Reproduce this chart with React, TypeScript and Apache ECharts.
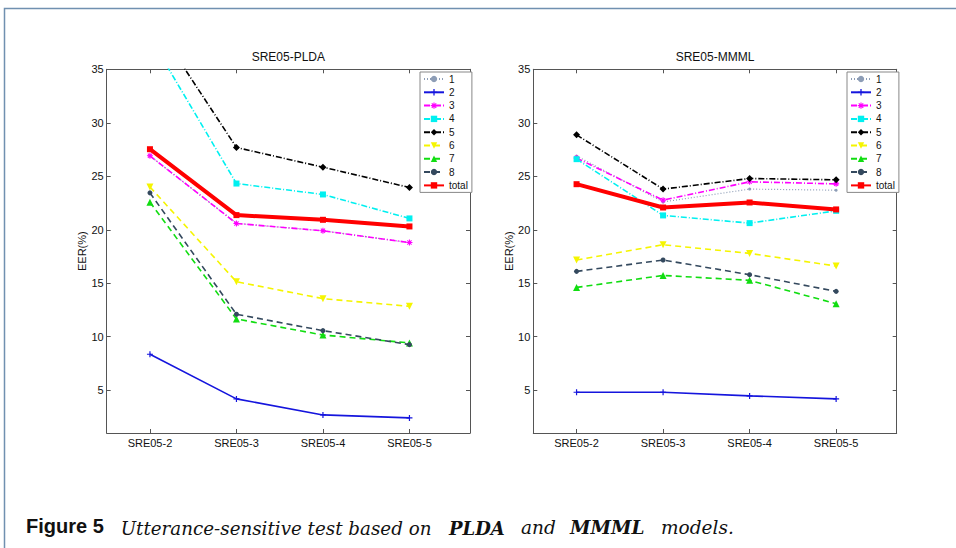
import React, { useEffect, useRef } from "react";
import * as echarts from "echarts";

const categories = ["SRE05-2", "SRE05-3", "SRE05-4", "SRE05-5"];
const yTicks = [5, 10, 15, 20, 25, 30, 35];
const seriesNames = ["1", "2", "3", "4", "5", "6", "7", "8", "total"];
const panelTitles = ["SRE05-PLDA", "SRE05-MMML"];

// SRE05-PLDA
const plda1 = [26.9, 20.6, 19.9, 18.8];
const plda2 = [8.36, 4.19, 2.69, 2.41];
const plda3 = [26.91, 20.59, 19.9, 18.8];
const plda4 = [38.0, 24.32, 23.3, 21.06];
const plda5 = [40.0, 27.69, 25.85, 23.95];
const plda6 = [24.0, 15.14, 13.56, 12.84];
const plda7 = [22.58, 11.66, 10.16, 9.42];
const plda8 = [23.45, 12.1, 10.57, 9.26];
const pldaTotal = [27.53, 21.37, 20.93, 20.31];

// SRE05-MMML
const mmml1 = [26.9, 22.6, 23.8, 23.7];
const mmml2 = [4.81, 4.81, 4.47, 4.19];
const mmml3 = [26.7, 22.77, 24.48, 24.29];
const mmml4 = [26.6, 21.34, 20.62, 21.77];
const mmml5 = [28.87, 23.8, 24.79, 24.67];
const mmml6 = [17.17, 18.6, 17.79, 16.61];
const mmml7 = [14.61, 15.73, 15.27, 13.09];
const mmml8 = [16.11, 17.17, 15.8, 14.24];
const mmmlTotal = [24.26, 22.08, 22.55, 21.9];

const panels = [
  [plda1, plda2, plda3, plda4, plda5, plda6, plda7, plda8, pldaTotal],
  [mmml1, mmml2, mmml3, mmml4, mmml5, mmml6, mmml7, mmml8, mmmlTotal],
];

const FONT = "Liberation Sans, Arial, sans-serif";
const AX = "#555";

const plusPath = "path://M4,0h2v4h4v2h-4v4h-2v-4h-4v-2h4z";
const starPath =
  "path://M4,0h2v3.3l2.3-2.3 1.4 1.4-2.3 2.3h3.3v2h-3.3l2.3 2.3-1.4 1.4-2.3-2.3v3.3h-2v-3.3l-2.3 2.3-1.4-1.4 2.3-2.3h-3.3v-2h3.3l-2.3-2.3 1.4-1.4 2.3 2.3z";
const downTri = "path://M0,0L10,0L5,8.66Z";

const styles = [
  { color: "#8d9db6", type: [1, 2], width: 1.2, symbol: "circle", size: 3 },
  { color: "#1515dd", type: "solid", width: 1.6, symbol: plusPath, size: 6 },
  { color: "#ff00ff", type: [6, 2, 1, 2], width: 1.6, symbol: starPath, size: 6 },
  { color: "#00f0f0", type: [6, 2, 1, 2], width: 1.6, symbol: "rect", size: 6 },
  { color: "#000000", type: [6, 2, 1, 2], width: 1.6, symbol: "diamond", size: 7 },
  { color: "#f5f500", type: [6, 4], width: 1.6, symbol: downTri, size: 7 },
  { color: "#11dd11", type: [6, 4], width: 1.6, symbol: "triangle", size: 7 },
  { color: "#34495e", type: [6, 4], width: 1.6, symbol: "circle", size: 5 },
  { color: "#ff0000", type: "solid", width: 4, symbol: "rect", size: 6 },
];

const gridsPos = [
  { left: 106.7, top: 69.3, width: 363.3, height: 363.7 },
  { left: 533.3, top: 69.3, width: 363.4, height: 363.7 },
];
const legendPos = [
  { left: 420, top: 72 },
  { left: 847, top: 72 },
];

export default function App() {
  const ref = useRef<HTMLDivElement>(null);
  useEffect(() => {
    if (!ref.current) return;
    document.body.style.margin = "0";
    document.body.style.overflow = "hidden";
    const chart = echarts.init(ref.current, undefined, { renderer: "svg" });
    const tickIdx = categories.map((_, i) => i + 1);
    const xAxis: any[] = [];
    const yAxis: any[] = [];
    const series: any[] = [];
    const legend: any[] = [];
    const graphic: any[] = [];
    gridsPos.forEach((g, gi) => {
      const xBase = {
        gridIndex: gi,
        type: "value",
        min: 0.5,
        max: 4.7,
        splitLine: { show: false },
        axisLine: { show: true, onZero: false, lineStyle: { color: AX, width: 1 } },
        axisTick: { show: true, inside: true, length: 4, customValues: tickIdx, lineStyle: { color: AX } },
      };
      xAxis.push({
        ...xBase,
        position: "bottom",
        axisLabel: {
          customValues: tickIdx,
          formatter: (v: number) => categories[Math.round(v) - 1] ?? "",
          fontSize: 11,
          color: "#111",
          margin: 4,
          fontFamily: FONT,
        },
      });
      xAxis.push({ ...xBase, position: "top", axisLabel: { show: false } });
      const yBase = {
        gridIndex: gi,
        type: "value",
        min: 1,
        max: 35,
        splitLine: { show: false },
        axisLine: { show: true, onZero: false, lineStyle: { color: AX, width: 1 } },
        axisTick: { show: true, inside: true, length: 4, customValues: yTicks, lineStyle: { color: AX } },
      };
      yAxis.push({
        ...yBase,
        position: "left",
        name: "EER(%)",
        nameLocation: "middle",
        nameGap: 16,
        nameTextStyle: { fontSize: 11, color: "#111", fontFamily: FONT },
        axisLabel: { customValues: yTicks, fontSize: 11, color: "#111", margin: 3, fontFamily: FONT },
      });
      yAxis.push({ ...yBase, position: "right", axisLabel: { show: false } });

      panels[gi].forEach((vals, si) => {
        const st = styles[si];
        series.push({
          name: seriesNames[si],
          type: "line",
          xAxisIndex: gi * 2,
          yAxisIndex: gi * 2,
          data: vals.map((v, i) => [i + 1, v]),
          showSymbol: true,
          symbol: st.symbol,
          symbolSize: st.size,
          itemStyle: { color: st.color },
          lineStyle: { color: st.color, type: st.type, width: st.width },
          emphasis: { disabled: true },
          z: 2 + si,
        });
      });
      legend.push({
        show: true,
        orient: "vertical",
        left: legendPos[gi].left,
        top: legendPos[gi].top,
        padding: [2, 4, 2, 3],
        itemGap: 3.3,
        itemWidth: 20,
        itemHeight: 8,
        backgroundColor: "#fff",
        borderColor: "#888",
        borderWidth: 1,
        borderRadius: 0,
        textStyle: { fontSize: 10, lineHeight: 10, color: "#111", fontFamily: FONT },
        data: seriesNames,
        selectedMode: false,
      });
      graphic.push({
        type: "text",
        x: g.left + g.width / 2,
        y: 57,
        style: {
          text: panelTitles[gi],
          fontSize: 12,
          fontFamily: FONT,
          fill: "#111",
          textAlign: "center",
          textVerticalAlign: "middle",
        },
      });
    });

    graphic.push({
      type: "rect",
      shape: { x: 4.5, y: 8.5, width: 1000, height: 600 },
      style: { fill: "none", stroke: "#7090b0", lineWidth: 1.5 },
      silent: true,
    });
    const capY = 536;
    const serif = "DejaVu Serif, serif";
    graphic.push({
      type: "text",
      x: 26,
      y: capY,
      style: { text: "Figure 5", fontSize: 20, fontWeight: "bold", fontFamily: FONT, fill: "#111", textVerticalAlign: "bottom" },
    });
    const capParts = [
      { t: "Utterance-sensitive test based on", x: 120.7, b: false, s: 18.3 },
      { t: "PLDA", x: 449, b: true, s: 18 },
      { t: "and", x: 521, b: false, s: 18.5 },
      { t: "MMML", x: 570, b: true, s: 18.5 },
      { t: "models.", x: 661, b: false, s: 18.5 },
    ];
    capParts.forEach((p) => {
      graphic.push({
        type: "text",
        x: p.x,
        y: capY + 1,
        style: {
          text: p.t,
          fontSize: p.s,
          fontStyle: "italic",
          fontWeight: p.b ? "bold" : "normal",
          fontFamily: serif,
          fill: "#111",
          textVerticalAlign: "bottom",
        },
      });
    });

    chart.setOption({
      animation: false,
      backgroundColor: "#fff",
      grid: gridsPos.map((g) => ({ ...g, containLabel: false })),
      xAxis,
      yAxis,
      legend,
      series,
      graphic,
      tooltip: { show: false },
    });
    return () => chart.dispose();
  }, []);
  return <div ref={ref} style={{ width: 956, height: 548 }} />;
}
